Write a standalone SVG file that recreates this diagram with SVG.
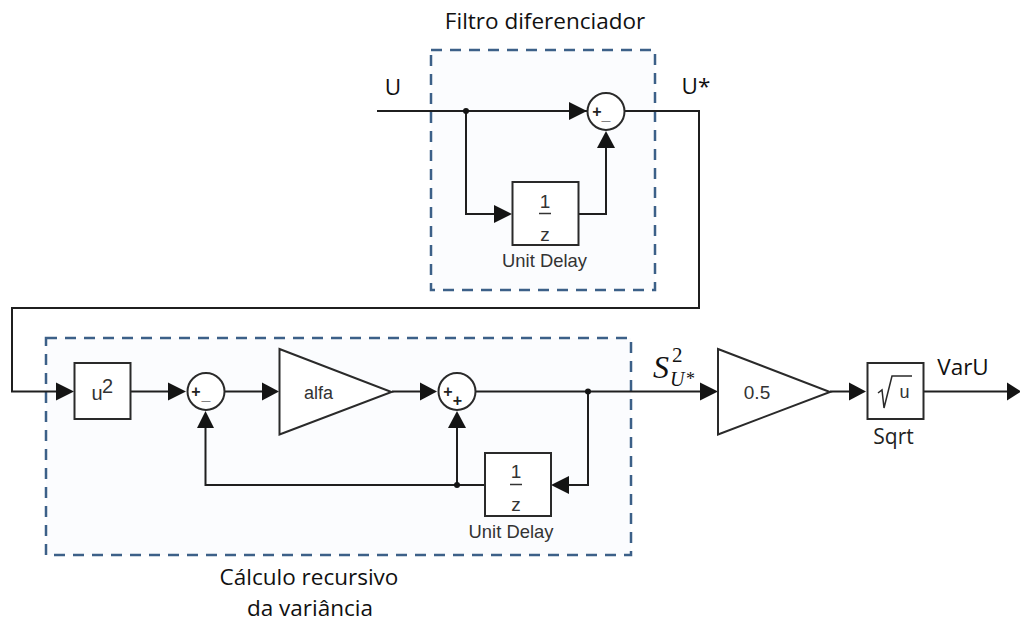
<svg xmlns="http://www.w3.org/2000/svg" width="1020" height="623" viewBox="0 0 1020 623">
<style>
.zone{fill:#fbfcfe;stroke:#3c6088;stroke-width:2.5;stroke-dasharray:11 8}
.wire{fill:none;stroke:#1f1f1f;stroke-width:2}
.block{fill:#fff;stroke:#2a2a2a;stroke-width:2}
.gain{fill:#fff;stroke:#2a2a2a;stroke-width:2;stroke-linejoin:miter}
.head{fill:#141414}
.dot{fill:#141414}
.note{font-family:"Open Sans","Noto Sans",sans-serif;font-size:22.500px;fill:#111}
.sim{font-family:"Liberation Sans",Arial,sans-serif;fill:#333}
.sign{font-family:"Liberation Sans",Arial,sans-serif;font-size:16px;font-weight:bold;fill:#222;text-anchor:middle}
.mid{text-anchor:middle}
</style>
<rect width="1020" height="623" fill="#fff"/>
<g id="zone-filtro"><rect class="zone" x="431" y="50" width="224" height="240"/></g>
<g id="zone-calculo"><rect class="zone" x="46" y="338" width="585" height="217"/></g>
<g id="connectors">
<path class="wire" d="M377 111H587"/>
<path class="wire" d="M466 111V214H494"/>
<path class="wire" d="M578 214H606V148"/>
<path class="wire" d="M625 111H699V308H12V391.5H56"/>
<path class="wire" d="M130.500 391.500H169"/>
<path class="wire" d="M225 391.500H262"/>
<path class="wire" d="M392 391.500H420"/>
<path class="wire" d="M476 391.500H700"/>
<path class="wire" d="M588 391.500V485H569"/>
<path class="wire" d="M485 485H205.500V428"/>
<path class="wire" d="M457 485V428"/>
<path class="wire" d="M830 391.500H849"/>
<path class="wire" d="M923 391.500H1007"/>
<polygon class="head" points="569,102 587,111 569,120"/>
<polygon class="head" points="494,205 512,214 494,223"/>
<polygon class="head" points="597,148 606,131 615,148"/>
<polygon class="head" points="56,382.500 74,391.500 56,400.500"/>
<polygon class="head" points="168,382.500 186,391.500 168,400.500"/>
<polygon class="head" points="262,382.500 279,391.500 262,400.500"/>
<polygon class="head" points="420,382.500 437,391.500 420,400.500"/>
<polygon class="head" points="700,382.500 718,391.500 700,400.500"/>
<polygon class="head" points="849,382.500 866,391.500 849,400.500"/>
<polygon class="head" points="1007,382.500 1021,391.500 1007,400.500"/>
<polygon class="head" points="569,476 551,485 569,494"/>
<polygon class="head" points="197,428 205.500,411 214,428"/>
<polygon class="head" points="448,428 457,411 466,428"/>
<circle class="dot" cx="466" cy="111" r="3"/>
<circle class="dot" cx="588" cy="391.500" r="3"/>
<circle class="dot" cx="457" cy="485" r="3"/>
</g>
<g id="sum-top"><circle class="block" cx="606" cy="111.500" r="18.500"/><text class="sign" x="597" y="117">+</text><text class="sign" x="606" y="120">_</text></g>
<g id="delay-top"><rect class="block" x="512.500" y="182" width="66" height="63"/><text class="sim mid" x="545" y="208" font-size="19">1</text><path d="M539 213.500H551" stroke="#333" stroke-width="1.500"/><text class="sim mid" x="545" y="241" font-size="19">z</text><text class="sim mid" x="544.500" y="267" font-size="18.400">Unit Delay</text></g>
<g id="square"><rect class="block" x="74.500" y="363" width="56" height="56"/><text class="sim" x="91.500" y="400" font-size="20">u</text><text class="sim" x="102" y="393" font-size="20">2</text></g>
<g id="sum-a"><circle class="block" cx="206" cy="391.500" r="18.500"/><text class="sign" x="196" y="397">+</text><text class="sign" x="206" y="400">_</text></g>
<g id="gain-alfa"><polygon class="gain" points="279.500,349 391.500,392 279.500,434.500"/><text class="sim mid" x="318.500" y="399" font-size="18">alfa</text></g>
<g id="sum-b"><circle class="block" cx="457" cy="391.500" r="18.500"/><text class="sign" x="448" y="397">+</text><text class="sign" x="457.500" y="406">+</text></g>
<g id="delay-bottom"><rect class="block" x="485" y="453" width="66" height="63"/><text class="sim mid" x="516" y="478" font-size="19">1</text><path d="M510 484.500H522" stroke="#333" stroke-width="1.500"/><text class="sim mid" x="516" y="511" font-size="19">z</text><text class="sim mid" x="511" y="538" font-size="18.400">Unit Delay</text></g>
<g id="gain-half"><polygon class="gain" points="718,349 830,392 718,434.500"/><text class="sim mid" x="757" y="399" font-size="19">0.5</text></g>
<g id="sqrt"><rect class="block" x="867.500" y="363" width="56" height="56"/><path d="M878 393L882 390L884 408L892 376H912" fill="none" stroke="#2a2a2a" stroke-width="1.500"/><text class="sim" x="899.500" y="398" font-size="18">u</text><text x="893.500" y="444" font-family="'Open Sans','Noto Sans',sans-serif" font-size="21" fill="#222" text-anchor="middle">Sqrt</text></g>
<g id="labels">
<text class="note mid" x="545" y="29">Filtro diferenciador</text>
<text class="note mid" x="393" y="95">U</text>
<text class="note mid" x="696" y="94">U*</text>
<text class="note mid" x="309" y="585">Cálculo recursivo</text>
<text class="note mid" x="310" y="616">da variância</text>
<text class="note mid" x="963" y="375">VarU</text>
<text x="653" y="378" font-family="'Liberation Serif',serif" font-style="italic" font-size="32" fill="#111">S</text>
<text x="672" y="362" font-family="'Liberation Serif',serif" font-size="21" fill="#111">2</text>
<text x="670" y="386" font-family="'Liberation Serif',serif" font-style="italic" font-size="20" fill="#111">U</text>
<text x="686" y="385" font-family="'Liberation Serif',serif" font-size="18" fill="#111">*</text>
</g>
</svg>
